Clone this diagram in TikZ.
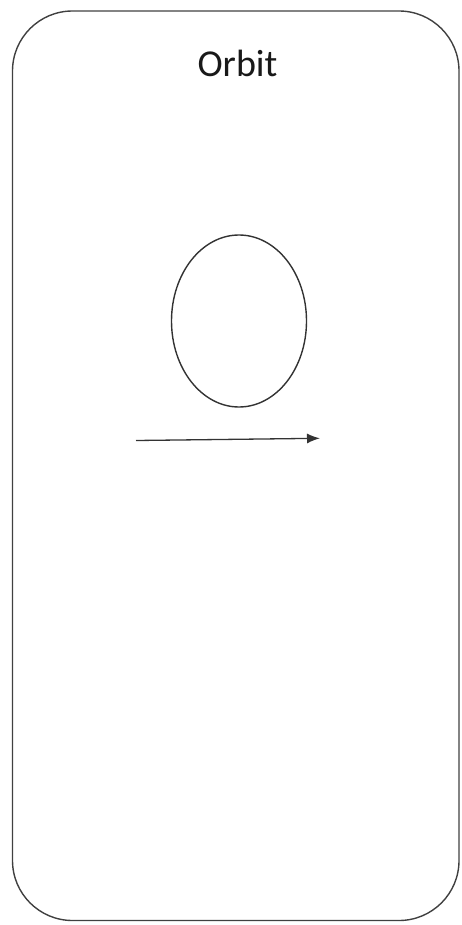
\documentclass[tikz,border=0pt]{standalone}
\usepackage{fontspec}
\setmainfont{Carlito}
\usetikzlibrary{arrows.meta}
\begin{document}
\begin{tikzpicture}[x=1pt,y=1pt,
  frame/.style={draw=black!75, line width=1.4pt, rounded corners=60pt},
  ring/.style={draw=black!80, line width=1.4pt},
  arr/.style={draw=black!80, line width=1.3pt, -{Latex[length=13pt,width=10pt]}}]
\useasboundingbox (0,0) rectangle (461,-925);
\draw[frame] (12.5,-11) rectangle (459,-920.5);
\node[anchor=base, font=\fontsize{38}{40}\selectfont, text=black!90, inner sep=0] (title) at (237.5,-77) {Orbit};
\draw[ring] (239,-321) ellipse [x radius=67.5, y radius=86];
\coordinate (a) at (136,-440.5);
\coordinate (b) at (320,-438.3);
\draw[arr] (a) -- (b);
\end{tikzpicture}
\end{document}
